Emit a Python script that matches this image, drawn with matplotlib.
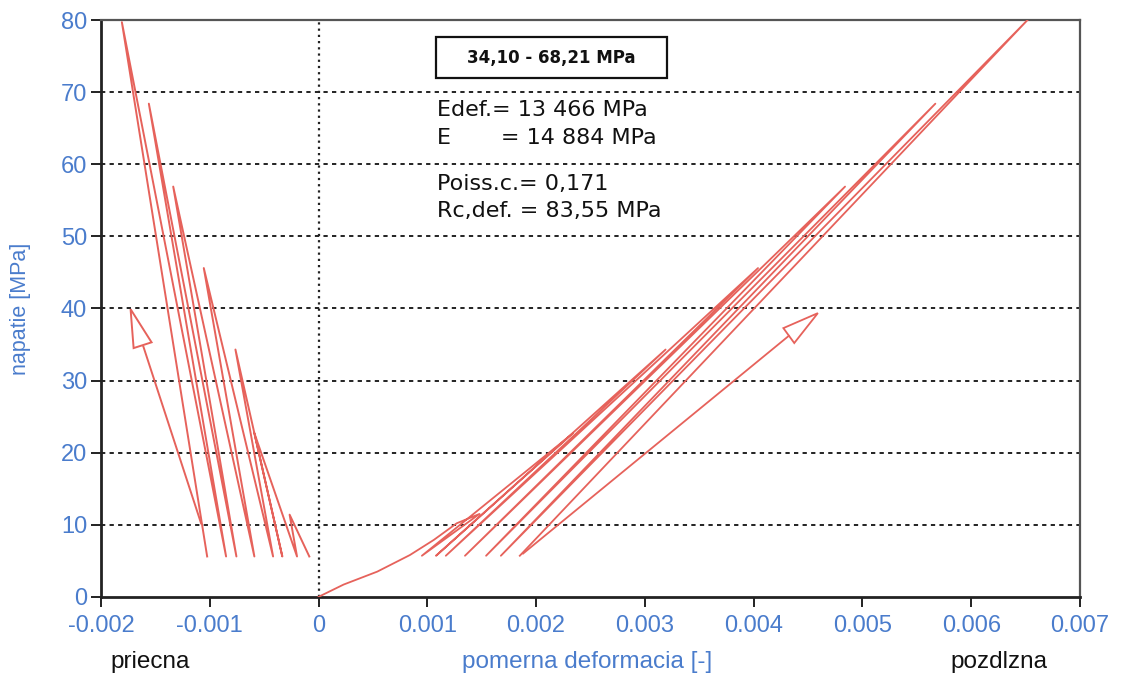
import matplotlib
matplotlib.use("Agg")
import matplotlib.pyplot as plt
from matplotlib.patches import Rectangle, Polygon

# ---------------- data ----------------
# transverse strain (priecna): load / unload cycles
trans_strain = [-0.000085, -0.000266, -0.000198, -0.000590, -0.000333, -0.000764,
                -0.000418, -0.001055, -0.000590, -0.001336, -0.000755, -0.001560,
                -0.000850, -0.001808, -0.001024]
trans_stress = [5.6, 11.4, 5.6, 22.7, 5.6, 34.3, 5.6, 45.6, 5.6, 56.9, 5.6, 68.4,
                5.6, 79.7, 5.6]

# longitudinal strain (pozdlzna)
long_strain = [0.0, 0.00023, 0.00054, 0.00084, 0.00106, 0.00127, 0.00148,
               0.00095, 0.00234, 0.00108, 0.00319, 0.00117, 0.00404, 0.001346,
               0.00484, 0.00154, 0.00567, 0.001676, 0.00653, 0.00185]
long_stress = [0.0, 1.7, 3.5, 5.8, 7.9, 10.2, 11.5,
               5.7, 22.7, 5.7, 34.3, 5.7, 45.6, 5.7,
               56.9, 5.7, 68.4, 5.7, 80.2, 5.7]

# direction arrows (shaft start, shaft end, head tip, head corners)
arrowL_x = [-0.00108, -0.00161]
arrowL_y = [10.2, 34.7]
headL_x = [-0.001728, -0.00170, -0.001535]
headL_y = [39.9, 34.5, 35.3]
arrowR_x = [0.00188, 0.004323]
arrowR_y = [6.0, 36.2]
headR_x = [0.00459, 0.004273, 0.004373]
headR_y = [39.35, 37.27, 35.2]

x_ticks = [-0.002, -0.001, 0, 0.001, 0.002, 0.003, 0.004, 0.005, 0.006, 0.007]
x_tick_labels = ["-0.002", "-0.001", "0", "0.001", "0.002", "0.003", "0.004",
                 "0.005", "0.006", "0.007"]
y_ticks = [0, 10, 20, 30, 40, 50, 60, 70, 80]

box_text = "34,10 - 68,21 MPa"
info_lines = ["Edef.= 13 466 MPa", "E       = 14 884 MPa",
              "Poiss.c.= 0,171", "Rc,def. = 83,55 MPa"]

# ---------------- style ----------------
RED = "#e6625b"
BLUE = "#4a7ccc"
plt.rcParams["font.family"] = ["Liberation Sans", "DejaVu Sans"]

fig = plt.figure(figsize=(11.22, 6.79), dpi=100)
ax = fig.add_axes([0.090, 0.121, 0.8726, 0.8495])

ax.plot(trans_strain, trans_stress, color=RED, lw=1.4, zorder=3)
ax.plot(long_strain, long_stress, color=RED, lw=1.3, zorder=3)

# arrows
ax.plot(arrowL_x, arrowL_y, color=RED, lw=1.4, zorder=3)
ax.add_patch(Polygon(list(zip(headL_x, headL_y)), closed=True, fill=False,
                     edgecolor=RED, lw=1.4, zorder=3))
ax.plot(arrowR_x, arrowR_y, color=RED, lw=1.3, zorder=3)
ax.add_patch(Polygon(list(zip(headR_x, headR_y)), closed=True, fill=False,
                     edgecolor=RED, lw=1.3, zorder=3))

ax.set_xlim(-0.002, 0.007)
ax.set_ylim(0, 80)
ax.set_xticks(x_ticks)
ax.set_xticklabels(x_tick_labels)
ax.set_yticks(y_ticks)

# grid
for yv in y_ticks[1:-1]:
    ax.axhline(yv, color="#222222", lw=1.4, ls=(0, (2.2, 2.2)), zorder=1)
ax.axvline(0, color="#222222", lw=1.6, ls=(0, (1, 1.8)), zorder=1)

ax.tick_params(axis="both", direction="out", length=7, width=1.4,
               labelcolor=BLUE, labelsize=17, color="#222222")
ax.tick_params(axis="x", pad=6)
ax.tick_params(axis="y", pad=3)
for s in ["left", "bottom"]:
    ax.spines[s].set_linewidth(2.0)
    ax.spines[s].set_color("#222222")
for s in ["top", "right"]:
    ax.spines[s].set_linewidth(1.6)
    ax.spines[s].set_color("#555555")

ax.set_ylabel("napatie [MPa]", color=BLUE, fontsize=15.5)
ax.yaxis.set_label_coords(-0.071, 0.50)

# info box
ax.add_patch(Rectangle((0.342, 0.900), 0.236, 0.070, transform=ax.transAxes,
                       fill=False, edgecolor="#111111", lw=1.6, zorder=4))
ax.text(0.460, 0.935, box_text, transform=ax.transAxes, ha="center",
        va="center", fontsize=12, fontweight="bold", family="DejaVu Sans",
        color="#111111", zorder=5)
info_y = [0.844, 0.795, 0.716, 0.669]
for t, yy in zip(info_lines, info_y):
    ax.text(0.343, yy, t, transform=ax.transAxes, ha="left", va="center",
            fontsize=16, family="DejaVu Sans", color="#111111", zorder=5)

fig.text(0.134, 0.025, "priecna", ha="center", va="center", fontsize=17.5,
         color="#111111")
fig.text(0.523, 0.025, "pomerna deformacia [-]", ha="center", va="center",
         fontsize=17.5, color=BLUE)
fig.text(0.890, 0.025, "pozdlzna", ha="center", va="center", fontsize=17.5,
         color="#111111")

fig.savefig("out.png", dpi=100)
